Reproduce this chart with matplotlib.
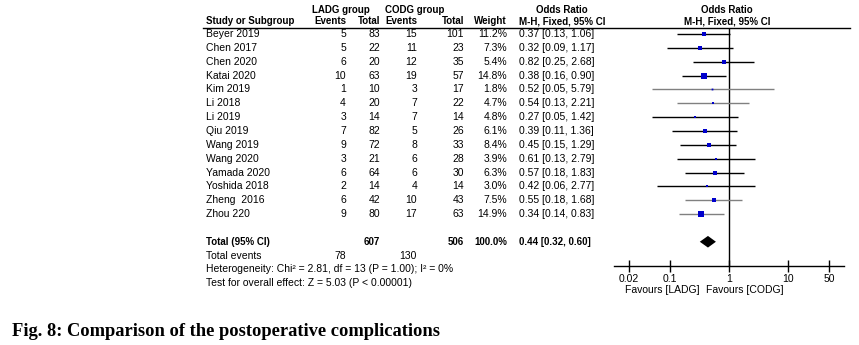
import numpy as np
import matplotlib
matplotlib.use("Agg")
import matplotlib.pyplot as plt

# data
studies = ["Beyer 2019", "Chen 2017", "Chen 2020", "Katai 2020", "Kim 2019", "Li 2018", "Li 2019",
           "Qiu 2019", "Wang 2019", "Wang 2020", "Yamada 2020", "Yoshida 2018", "Zheng  2016", "Zhou 220"]
ladg_events = [5, 5, 6, 10, 1, 4, 3, 7, 9, 3, 6, 2, 6, 9]
ladg_total = [83, 22, 20, 63, 10, 20, 14, 82, 72, 21, 64, 14, 42, 80]
codg_events = [15, 11, 12, 19, 3, 7, 7, 5, 8, 6, 6, 4, 10, 17]
codg_total = [101, 23, 35, 57, 17, 22, 14, 26, 33, 28, 30, 14, 43, 63]
weight = [11.2, 7.3, 5.4, 14.8, 1.8, 4.7, 4.8, 6.1, 8.4, 3.9, 6.3, 3.0, 7.5, 14.9]
odds = [0.37, 0.32, 0.82, 0.38, 0.52, 0.54, 0.27, 0.39, 0.45, 0.61, 0.57, 0.42, 0.55, 0.34]
ci_low = [0.13, 0.09, 0.25, 0.16, 0.05, 0.13, 0.05, 0.11, 0.15, 0.13, 0.18, 0.06, 0.18, 0.14]
ci_high = [1.06, 1.17, 2.68, 0.90, 5.79, 2.21, 1.42, 1.36, 1.29, 2.79, 1.83, 2.77, 1.68, 0.83]

total_or = 0.44
total_low = 0.32
total_high = 0.60
total_ladg = 607
total_codg = 506
events_ladg = 78
events_codg = 130

ticks = [0.02, 0.1, 1, 10, 50]
tick_labels = ["0.02", "0.1", "1", "10", "50"]

gray_rows = ["Kim 2019", "Li 2018", "Zheng  2016", "Zhou 220"]

W, H = 859, 345
fig = plt.figure(figsize=(W / 100, H / 100), dpi=100)
plt.rcParams['font.family'] = ['Liberation Sans', 'DejaVu Sans']

# rows: pixel y = 34 + 13.85*row
pitch = 13.85
y0 = 34
top_px, bot_px = 28, 266
ylim = ((bot_px - y0) / pitch, (top_px - y0) / pitch)
bottom = (H - bot_px) / H
height = (bot_px - top_px) / H

def row(py):
    return (py - y0) / pitch

# forest panel
ax = fig.add_axes([614 / W, bottom, 230 / W, height])
ax.set_xscale("log")
ax.set_xlim(0.01124, 89)
ax.set_ylim(*ylim)
ax.axvline(1, color="black", lw=1)
ys = np.arange(len(studies))
for i in range(len(studies)):
    c = "#808080" if studies[i] in gray_rows else "black"
    ax.plot([ci_low[i], ci_high[i]], [ys[i], ys[i]], color=c, lw=1, solid_capstyle="butt")
    ax.plot(odds[i], ys[i], marker="s", color="#0000CC", ms=0.95 * np.sqrt(weight[i]), mew=0)
ty = 15
ax.fill([total_low, total_or, total_high, total_or], [ty, ty - 0.42, ty, ty + 0.42], color="black", lw=0)
for s in ["top", "left", "right"]:
    ax.spines[s].set_visible(False)
ax.spines["bottom"].set_linewidth(1)
ax.set_yticks([])
ax.set_xticks(ticks)
ax.set_xticklabels(tick_labels)
ax.minorticks_off()
ax.tick_params(axis="x", direction="inout", length=8, width=1, labelsize=7.5, pad=2)

# table text
tx = fig.add_axes([0, bottom, 1, height])
tx.set_xlim(0, W)
tx.set_ylim(*ylim)
tx.axis("off")
fs = 7.5
fb = 7

def put(x, y, s, ha="left", bold=False):
    tx.text(x, y, s, ha=ha, va="center", fontsize=fb if bold else fs,
            fontweight="bold" if bold else "normal", clip_on=False)

c_ev1, c_tot1, c_ev2, c_tot2, c_w, c_ci = 346, 380, 417, 464, 507, 519

h1, h2 = row(10), row(21)
put(341, h1, "LADG group", "center", True)
put(415, h1, "CODG group", "center", True)
put(562, h1, "Odds Ratio", "center", True)
put(727, h1, "Odds Ratio", "center", True)
put(206, h2, "Study or Subgroup", bold=True)
put(c_ev1, h2, "Events", "right", True)
put(c_tot1, h2, "Total", "right", True)
put(c_ev2, h2, "Events", "right", True)
put(c_tot2, h2, "Total", "right", True)
put(c_w, h2, "Weight", "right", True)
put(562, h2, "M-H, Fixed, 95% CI", "center", True)
put(727, h2, "M-H, Fixed, 95% CI", "center", True)
tx.plot([203, 850], [ylim[1], ylim[1]], color="black", lw=1, clip_on=False)

for i in range(len(studies)):
    put(206, ys[i], studies[i])
    put(c_ev1, ys[i], str(ladg_events[i]), "right")
    put(c_tot1, ys[i], str(ladg_total[i]), "right")
    put(c_ev2, ys[i], str(codg_events[i]), "right")
    put(c_tot2, ys[i], str(codg_total[i]), "right")
    put(c_w, ys[i], "%.1f%%" % weight[i], "right")
    put(c_ci, ys[i], "%.2f [%.2f, %.2f]" % (odds[i], ci_low[i], ci_high[i]))

put(206, ty, "Total (95% CI)", bold=True)
put(c_tot1, ty, str(total_ladg), "right", True)
put(c_tot2, ty, str(total_codg), "right", True)
put(c_w, ty, "100.0%", "right", True)
put(c_ci, ty, "%.2f [%.2f, %.2f]" % (total_or, total_low, total_high), bold=True)
put(206, ty + 1, "Total events")
put(c_ev1, ty + 1, str(events_ladg), "right")
put(c_ev2, ty + 1, str(events_codg), "right")
put(206, ty + 2, "Heterogeneity: Chi² = 2.81, df = 13 (P = 1.00); I² = 0%")
put(206, ty + 3, "Test for overall effect: Z = 5.03 (P < 0.00001)")

put(700, row(290), "Favours [LADG]", "right")
put(706, row(290), "Favours [CODG]")

fig.text(12 / W, 1 - 332 / H, "Fig. 8: Comparison of the postoperative complications",
         family="Liberation Serif", fontweight="bold", fontsize=13.3, va="center", ha="left")

fig.savefig("out.png", dpi=100)
